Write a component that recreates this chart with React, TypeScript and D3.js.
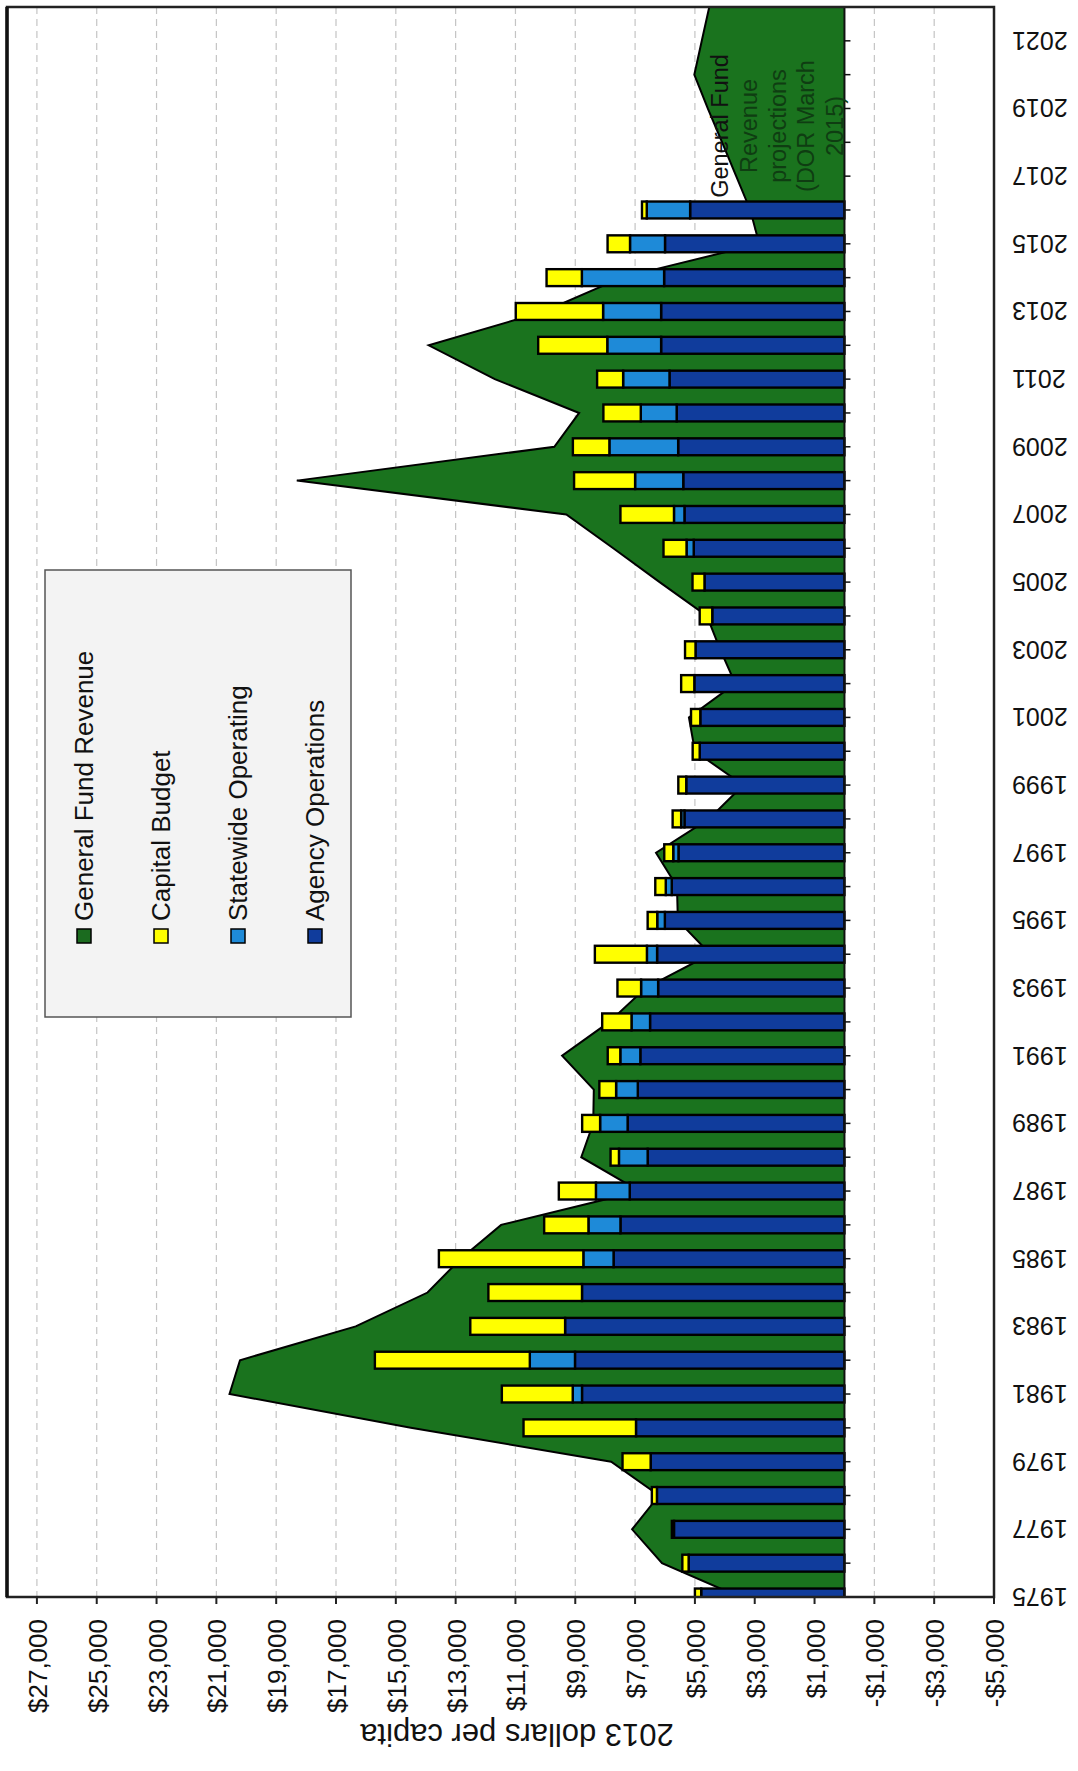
import React from "react";
import * as d3 from "d3";

// ---------- data ----------
const barYears = [
  1975, 1976, 1977, 1978, 1979, 1980, 1981, 1982, 1983, 1984, 1985, 1986, 1987, 1988,
  1989, 1990, 1991, 1992, 1993, 1994, 1995, 1996, 1997, 1998, 1999, 2000, 2001, 2002,
  2003, 2004, 2005, 2006, 2007, 2008, 2009, 2010, 2011, 2012, 2013, 2014, 2015, 2016,
];
const agencyOperations = [
  4790, 5210, 5700, 6270, 6480, 6970, 8775, 9010, 9340, 8775, 7720, 7490, 7180, 6580,
  7250, 6910, 6825, 6500, 6230, 6265, 6005, 5775, 5550, 5350, 5290, 4840, 4820, 5020,
  4980, 4420, 4680, 5040, 5350, 5390, 5560, 5610, 5850, 6130, 6130, 6030, 6000, 5160,
];
const statewideOperating = [
  0, 0, 0, 0, 0, 0, 310, 1510, 0, 0, 1010, 1070, 1130, 960,
  920, 725, 670, 620, 570, 340, 255, 200, 175, 110, 0, 0, 0, 0,
  0, 0, 0, 240, 350, 1610, 2300, 1200, 1550, 1800, 1940, 2750, 1170, 1450,
];
const capitalBudget = [
  210, 210, 70, 170, 940, 3760, 2370, 5180, 3170, 3130, 4830, 1480, 1240, 280,
  600, 560, 420, 980, 790, 1740, 320, 350, 300, 285, 265, 235, 310, 440,
  350, 420, 400, 770, 1790, 2040, 1220, 1250, 870, 2310, 2920, 1180, 750, 160,
];
const revenueYears = [
  1975, 1976, 1977, 1978, 1979, 1980, 1981, 1982, 1983, 1984, 1985, 1986, 1987, 1988,
  1989, 1990, 1991, 1992, 1993, 1994, 1995, 1996, 1997, 1998, 1999, 2000, 2001, 2002,
  2003, 2004, 2005, 2006, 2007, 2008, 2009, 2010, 2011, 2012, 2013, 2014, 2015, 2016,
  2017, 2018, 2019, 2020, 2021, 2022,
];
const generalFundRevenue = [
  3500, 6100, 7100, 6200, 7800, 14500, 20560, 20210, 16340, 13940, 12830, 11480, 6850, 8800,
  8400, 8380, 9440, 7860, 6650, 4480, 5570, 5600, 6300, 4530, 3380, 5000, 5200, 3650,
  4150, 4600, 6180, 7730, 9300, 18310, 9700, 8870, 11690, 13900, 10050, 7450, 2850, 3150,
  3620, 4090, 4570, 5020, 4770, 4520,
];
const valueTicks = [
  27000, 25000, 23000, 21000, 19000, 17000, 15000, 13000, 11000, 9000, 7000, 5000, 3000,
  1000, -1000, -3000, -5000,
];
const yearLabels = [
  1975, 1977, 1979, 1981, 1983, 1985, 1987, 1989, 1991, 1993, 1995, 1997, 1999, 2001,
  2003, 2005, 2007, 2009, 2011, 2013, 2015, 2017, 2019, 2021,
];
const legendItems = [
  { label: "General Fund Revenue", color: "#1b6b1f" },
  { label: "Capital Budget", color: "#ffff00" },
  { label: "Statewide Operating", color: "#1e8ad8" },
  { label: "Agency Operations", color: "#103c9c" },
];
const annotationLines = ["General Fund", "Revenue", "projections", "(DOR March", "2015)"];
const axisTitle = "2013 dollars per capita";

// ---------- layout ----------
const W = 1078;
const H = 1771;
const L = 7;
const R = 994;
const T = 7;
const B = 1597;
const FONT = "Arial, 'Liberation Sans', Helvetica, sans-serif";

const COL_AREA = "#1a731e";
const COL_AGENCY = "#103c9c";
const COL_STATE = "#1e8ad8";
const COL_CAP = "#ffff00";

const fmt = (v: number) => (v < 0 ? "-" : "") + "$" + d3.format(",")(Math.abs(v));

export default function App() {
  const x = d3.scaleLinear().domain([-5000, 28000]).range([R, L]);
  const y = d3.scaleLinear().domain([1975, 2022]).range([B, T]);
  const step = Math.abs(y(1976) - y(1975));
  const barH = step * 0.5;
  const x0 = x(0);

  const revData = revenueYears.map((yr, i) => ({ yr, v: generalFundRevenue[i] }));
  const areaGen = d3
    .area<{ yr: number; v: number }>()
    .y((d) => y(d.yr))
    .x0(x0)
    .x1((d) => x(d.v));
  const lineGen = d3
    .line<{ yr: number; v: number }>()
    .x((d) => x(d.v))
    .y((d) => y(d.yr));

  const bars = barYears.map((yr, i) => {
    const a = agencyOperations[i];
    const s = statewideOperating[i];
    const c = capitalBudget[i];
    return [
      { from: 0, to: a, color: COL_AGENCY },
      { from: a, to: a + s, color: COL_STATE },
      { from: a + s, to: a + s + c, color: COL_CAP },
    ]
      .filter((seg) => seg.to - seg.from > 0)
      .map((seg, j) => (
        <rect
          key={`${yr}-${j}`}
          x={x(seg.to)}
          y={y(yr) - barH / 2}
          width={x(seg.from) - x(seg.to)}
          height={barH}
          fill={seg.color}
          stroke="#000"
          strokeWidth={2.4}
        />
      ));
  });

  const allYears = revenueYears;

  return (
    <svg
      width={W}
      height={H}
      viewBox={`0 0 ${W} ${H}`}
      style={{ position: "absolute", left: 0, top: 0, display: "block", background: "#fff" }}
      fontFamily={FONT}
    >
      <defs>
        <clipPath id="plotClip">
          <rect x={L} y={T} width={R - L} height={B - T} />
        </clipPath>
      </defs>
      <rect x={0} y={0} width={W} height={H} fill="#fff" />

      {/* gridlines */}
      {valueTicks
        .filter((t) => t !== -5000)
        .map((t) => (
          <line
            key={`g${t}`}
            x1={x(t)}
            x2={x(t)}
            y1={T}
            y2={B}
            stroke="#c4c4c4"
            strokeWidth={1.2}
            strokeDasharray="7,5"
          />
        ))}

      <g clipPath="url(#plotClip)">
        <path d={areaGen(revData) || ""} fill={COL_AREA} />
        <path d={lineGen(revData) || ""} fill="none" stroke="#000" strokeWidth={2} strokeLinejoin="miter" />
        {bars}
      </g>

      {/* category axis at zero */}
      <line x1={x0} x2={x0} y1={T} y2={B} stroke="#111" strokeWidth={2} />
      {allYears.map((yr) => (
        <line key={`yt${yr}`} x1={x0} x2={x0 + 6} y1={y(yr)} y2={y(yr)} stroke="#111" strokeWidth={1.5} />
      ))}

      {/* frame */}
      <rect x={L} y={T} width={R - L} height={B - T} fill="none" stroke="#222" strokeWidth={2.5} />
      <line x1={L} x2={L} y1={T} y2={B} stroke="#111" strokeWidth={3.5} />

      {/* value axis ticks & labels */}
      {valueTicks.map((t) => (
        <g key={`vt${t}`}>
          <line x1={x(t)} x2={x(t)} y1={B} y2={B + 7} stroke="#222" strokeWidth={2} />
          <text
            transform={`translate(${x(t) + 10},${1619}) rotate(-90)`}
            textAnchor="end"
            fontSize={26}
            fill="#111"
          >
            {fmt(t)}
          </text>
        </g>
      ))}

      {/* year labels (upside down) */}
      {yearLabels.map((yr) => (
        <text
          key={`yl${yr}`}
          transform={`translate(${1012},${y(yr) - 9}) rotate(180)`}
          textAnchor="end"
          fontSize={25}
          fill="#111"
        >
          {yr}
        </text>
      ))}

      {/* axis title */}
      <text
        transform={`translate(${517},${1724}) rotate(180)`}
        textAnchor="middle"
        fontSize={31}
        fill="#111"
      >
        {axisTitle}
      </text>

      {/* legend */}
      <rect x={45} y={570} width={306} height={447} fill="#f3f3f3" stroke="#555" strokeWidth={1.5} />
      {legendItems.map((it, i) => {
        const cx = 84 + i * 77;
        return (
          <g key={it.label}>
            <rect x={cx - 7} y={929} width={14} height={14} fill={it.color} stroke="#000" strokeWidth={1.5} />
            <text
              transform={`translate(${cx + 9},${921}) rotate(-90)`}
              textAnchor="start"
              fontSize={26}
              fill="#111"
            >
              {it.label}
            </text>
          </g>
        );
      })}

      {/* annotation */}
      {annotationLines.map((ln, i) => (
        <text
          key={`an${i}`}
          transform={`translate(${720 + i * 28.8 + 8},${126}) rotate(-90)`}
          textAnchor="middle"
          fontSize={23.5}
          fill={i === 0 ? "#111" : "#0f3d12"}
        >
          {ln}
        </text>
      ))}
    </svg>
  );
}
